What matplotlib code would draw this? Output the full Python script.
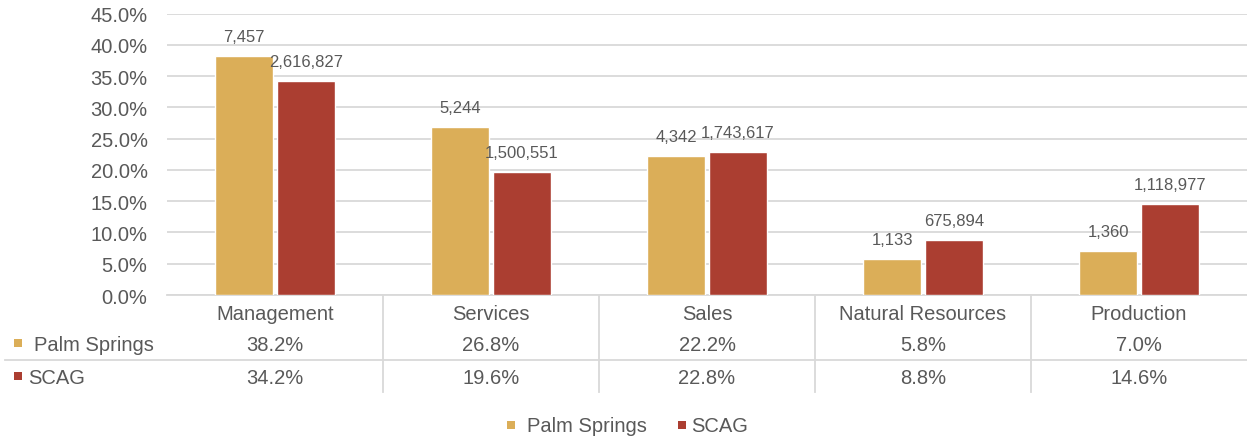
import matplotlib
matplotlib.use("Agg")
import matplotlib.pyplot as plt
from matplotlib.transforms import blended_transform_factory
from matplotlib.lines import Line2D
from matplotlib.patches import Rectangle
import numpy as np

categories = ["Management", "Services", "Sales", "Natural Resources", "Production"]
series_names = ["Palm Springs", "SCAG"]
palm_pct = [38.2, 26.8, 22.2, 5.8, 7.0]
scag_pct = [34.2, 19.6, 22.8, 8.8, 14.6]
palm_counts = ["7,457", "5,244", "4,342", "1,133", "1,360"]
scag_counts = ["2,616,827", "1,500,551", "1,743,617", "675,894", "1,118,977"]
palm_table = ["38.2%", "26.8%", "22.2%", "5.8%", "7.0%"]
scag_table = ["34.2%", "19.6%", "22.8%", "8.8%", "14.6%"]
yticks = [0, 5, 10, 15, 20, 25, 30, 35, 40, 45]

YELLOW = "#DBAE58"
RED = "#AB3E31"
GRID = "#D9D9D9"
TXT = "#595959"

plt.rcParams["font.family"] = ["Liberation Sans", "DejaVu Sans"]
TFS = 14.5

W, H = 1247, 439
fig = plt.figure(figsize=(W / 100, H / 100), dpi=100)
ax = fig.add_axes([167 / W, 1 - 296 / H, 1 - 167 / W, (296 - 14.5) / H])

x = np.arange(len(categories))
bw = 0.2685
off = 0.1435
b1 = ax.bar(x - off, palm_pct, bw, color=YELLOW, edgecolor="white", linewidth=1.0, zorder=3)
b2 = ax.bar(x + off, scag_pct, bw, color=RED, edgecolor="white", linewidth=1.0, zorder=3)

for bars, labels in ((b1, palm_counts), (b2, scag_counts)):
    for r, lab in zip(bars, labels):
        ax.annotate(lab, (r.get_x() + r.get_width() / 2, r.get_height()),
                    xytext=(0, 14), textcoords="offset points", ha="center", va="center",
                    fontsize=12, color=TXT, zorder=4)

ax.set_xlim(-0.5, 4.5)
ax.set_ylim(0, 45)
ax.set_yticks(yticks)
ax.set_yticklabels([f"{v:.1f}%" for v in yticks], fontsize=14.5, color=TXT)
ax.tick_params(axis="y", length=0, pad=14)
ax.set_xticks([])
ax.grid(axis="y", color=GRID, linewidth=1.3, zorder=0)
for s in ["top", "right", "left"]:
    ax.spines[s].set_visible(False)
ax.spines["bottom"].set_color(GRID)
ax.spines["bottom"].set_linewidth(1.3)

tr = blended_transform_factory(ax.transData, fig.transFigure)

def fy(py):
    return 1 - py / H

# table text
for i, c in enumerate(categories):
    fig.text(x[i], fy(315), c, transform=tr, ha="center", va="center", fontsize=TFS, color=TXT)
    fig.text(x[i], fy(346), palm_table[i], transform=tr, ha="center", va="center",
             fontsize=TFS, color=TXT)
    fig.text(x[i], fy(379), scag_table[i], transform=tr, ha="center", va="center",
             fontsize=TFS, color=TXT)

# vertical separators
for xv in [0.5, 1.5, 2.5, 3.5]:
    fig.add_artist(Line2D([xv, xv], [fy(296), fy(393)], transform=tr, color=GRID, linewidth=1.3))
# horizontal separator
fig.add_artist(Line2D([5 / W, 1], [fy(361), fy(361)], transform=fig.transFigure, color=GRID, linewidth=1.3))

# row headers with keys
def key(px, py, color, size=8):
    fig.add_artist(Rectangle(((px - size / 2) / W, fy(py + size / 2)), size / W, size / H,
                             transform=fig.transFigure, color=color, lw=0))

key(18, 344, YELLOW)
fig.text(34 / W, fy(346), series_names[0], ha="left", va="center", fontsize=TFS, color=TXT)
key(18, 377, RED)
fig.text(28 / W, fy(379), series_names[1], ha="left", va="center", fontsize=TFS, color=TXT)

# bottom legend
key(511, 426, YELLOW)
fig.text(527 / W, fy(427), series_names[0], ha="left", va="center", fontsize=TFS, color=TXT)
key(682, 426, RED)
fig.text(691 / W, fy(427), series_names[1], ha="left", va="center", fontsize=TFS, color=TXT)

fig.savefig("out.png", dpi=100)
